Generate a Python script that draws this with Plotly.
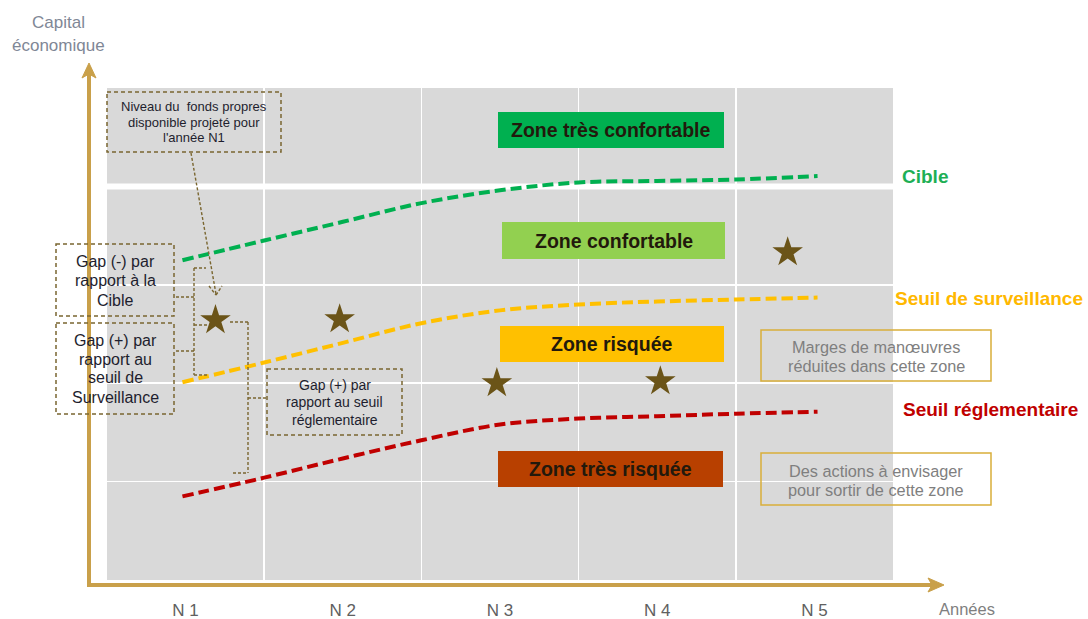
import plotly.graph_objects as go

# ---------------- data ----------------
years = [1, 2, 3, 4, 5]
year_labels = ["N 1", "N 2", "N 3", "N 4", "N 5"]

curve_x = [0.98, 1.5, 2.0, 2.5, 3.0, 3.5, 4.0, 4.5, 5.02]
cible = [3.25, 3.45, 3.64, 3.83, 3.96, 4.04, 4.055, 4.07, 4.105]
seuil_surveillance = [2.01, 2.21, 2.41, 2.61, 2.74, 2.80, 2.83, 2.85, 2.87]
seuil_reglementaire = [0.85, 1.04, 1.235, 1.42, 1.58, 1.64, 1.665, 1.69, 1.71]

star_x = [1.19, 1.98, 2.98, 4.02, 4.83]
star_y = [2.64, 2.65, 2.00, 2.02, 3.33]

zone_names = ["Zone très confortable", "Zone confortable", "Zone risquée", "Zone très risquée"]
zone_colors = ["#00B050", "#92D050", "#FFC000", "#B84000"]

# ---------------- geometry helpers (pixel -> paper) ----------------
W, H = 1088, 619
L, R, T, B = 107, 195, 88, 39
PW, PH = W - L - R, H - T - B


def X(px):
    return (px - L) / PW


def Y(py):
    return (H - B - py) / PH


FONT = "Liberation Sans, Arial, sans-serif"
NARROW = "Liberation Sans Narrow, Arial Narrow, Liberation Sans, Arial, sans-serif"
GOLD = "#C9A04A"
OLIVE = "#7A6630"
STAR = "#6B5418"

fig = go.Figure()

line_specs = [
    (cible, "#00B050"),
    (seuil_surveillance, "#FFC000"),
    (seuil_reglementaire, "#C00000"),
]
for vals, col in line_specs:
    fig.add_trace(go.Scatter(
        x=curve_x, y=vals, mode="lines",
        line=dict(color=col, width=4, dash="11px,5px", shape="spline", smoothing=1),
        hoverinfo="skip", showlegend=False,
    ))

fig.add_trace(go.Scatter(
    x=star_x, y=star_y, mode="markers",
    marker=dict(symbol="star", size=23, color=STAR, line=dict(width=0)),
    hoverinfo="skip", showlegend=False,
))

shapes = []
annotations = []

# thick white line (target level)
shapes.append(dict(type="line", xref="paper", yref="y", x0=0, x1=1, y0=4, y1=4,
                   line=dict(color="white", width=6), layer="between"))

# golden axes with arrows
shapes.append(dict(type="line", xref="paper", yref="paper",
                   x0=X(89), y0=Y(586), x1=X(89), y1=Y(72),
                   line=dict(color=GOLD, width=4)))
shapes.append(dict(type="line", xref="paper", yref="paper",
                   x0=X(87), y0=Y(585), x1=X(935), y1=Y(585),
                   line=dict(color=GOLD, width=4)))


def path(points):
    s = "M " + " L ".join(f"{X(a):.5f},{Y(b):.5f}" for a, b in points) + " Z"
    return s


shapes.append(dict(type="path", xref="paper", yref="paper",
                   path=path([(82, 78), (89, 63), (96, 78), (89, 74)]),
                   fillcolor=GOLD, line=dict(color=GOLD, width=1)))
shapes.append(dict(type="path", xref="paper", yref="paper",
                   path=path([(928, 578), (944, 585), (928, 592), (932, 585)]),
                   fillcolor=GOLD, line=dict(color=GOLD, width=1)))

# zone boxes
zone_boxes = [(498, 112, 724, 148), (502, 222, 725, 259), (500, 326, 724, 362), (498, 451, 723, 487)]
for name, col, (x0, y0, x1, y1) in zip(zone_names, zone_colors, zone_boxes):
    shapes.append(dict(type="rect", xref="paper", yref="paper",
                       x0=X(x0), y0=Y(y0), x1=X(x1), y1=Y(y1),
                       fillcolor=col, line=dict(width=0), layer="above"))
    annotations.append(dict(xref="paper", yref="paper", x=X((x0 + x1) / 2), y=Y((y0 + y1) / 2),
                            text=f"<b>{name}</b>", showarrow=False, xanchor="center", yanchor="middle",
                            font=dict(family=FONT, size=19.5, color="#22190C")))

# right-side line labels
annotations.append(dict(xref="paper", yref="paper", x=X(900), y=Y(176), text="<b>Cible</b>",
                        showarrow=False, xanchor="left", yanchor="middle",
                        font=dict(family=FONT, size=19, color="#1DAF55")))
annotations.append(dict(xref="paper", yref="paper", x=X(989), y=Y(298), text="<b>Seuil de surveillance</b>",
                        showarrow=False, xanchor="center", yanchor="middle",
                        font=dict(family=FONT, size=19, color="#FFB800")))
annotations.append(dict(xref="paper", yref="paper", x=X(990), y=Y(409), text="<b>Seuil réglementaire</b>",
                        showarrow=False, xanchor="center", yanchor="middle",
                        font=dict(family=FONT, size=19, color="#C00000")))

# gold comment boxes
gold_boxes = [
    ((761, 330, 991, 381), ["Marges de manœuvres", "réduites dans cette zone"], [347, 366]),
    ((761, 453, 991, 505), ["Des actions à envisager", "pour sortir de cette zone"], [471, 490]),
]
for (x0, y0, x1, y1), lines, ys in gold_boxes:
    shapes.append(dict(type="rect", xref="paper", yref="paper",
                       x0=X(x0), y0=Y(y0), x1=X(x1), y1=Y(y1),
                       line=dict(color="#D9AE3A", width=1.5), layer="above"))
    for t, yy in zip(lines, ys):
        annotations.append(dict(xref="paper", yref="paper", x=X((x0 + x1) / 2), y=Y(yy), text=t,
                                showarrow=False, xanchor="center", yanchor="middle",
                                font=dict(family=FONT, size=16.3, color="#7F7F7F")))

# dashed explanation boxes
dash_boxes = [
    ((107, 92, 281, 152), ["Niveau du  fonds propres", "disponible projeté pour", "l'année N1"], [107, 122, 137], 13),
    ((56, 244, 174, 316), ["Gap (-) par", "rapport à la", "Cible"], [261, 280, 300], 16),
    ((56, 323, 174, 414), ["Gap (+) par", "rapport au", "seuil de", "Surveillance"], [340, 359, 378, 397], 16),
    ((267, 369, 402, 435), ["Gap (+) par", "rapport au seuil", "réglementaire"], [385, 402.5, 420], 14),
]
for (x0, y0, x1, y1), lines, ys, fs in dash_boxes:
    shapes.append(dict(type="rect", xref="paper", yref="paper",
                       x0=X(x0), y0=Y(y0), x1=X(x1), y1=Y(y1),
                       line=dict(color=OLIVE, width=1.5, dash="4px,3px"), layer="above"))
    for t, yy in zip(lines, ys):
        annotations.append(dict(xref="paper", yref="paper", x=X((x0 + x1) / 2), y=Y(yy), text=t,
                                showarrow=False, xanchor="center", yanchor="middle",
                                font=dict(family=FONT, size=fs, color="#1E1E2E")))

# dashed connector / bracket lines
segs = [
    ((191, 153), (216, 294)),
    ((209, 286), (216, 295)), ((216, 295), (222, 286)),
    ((194, 268), (194, 375)),
    ((194, 268), (206, 268)),
    ((194, 325), (207, 325)),
    ((194, 375), (208, 375)),
    ((176, 297), (194, 297)),
    ((176, 351), (194, 351)),
    ((230, 322), (248, 322)),
    ((248, 322), (248, 473)),
    ((233, 473), (248, 473)),
    ((248, 398), (267, 398)),
]
for (a, b), (c, d) in segs:
    shapes.append(dict(type="line", xref="paper", yref="paper",
                       x0=X(a), y0=Y(b), x1=X(c), y1=Y(d),
                       line=dict(color=OLIVE, width=1.4, dash="3px,2px"), layer="above"))

# axis titles
annotations.append(dict(xref="paper", yref="paper", x=X(58), y=Y(22), text="Capital",
                        showarrow=False, xanchor="center", yanchor="middle",
                        font=dict(family=FONT, size=17, color="#7F8796")))
annotations.append(dict(xref="paper", yref="paper", x=X(58), y=Y(45), text="économique",
                        showarrow=False, xanchor="center", yanchor="middle",
                        font=dict(family=FONT, size=17, color="#7F8796")))
annotations.append(dict(xref="paper", yref="paper", x=X(967), y=Y(609), text="Années",
                        showarrow=False, xanchor="center", yanchor="middle",
                        font=dict(family=NARROW, size=16.5, color="#7F7F7F")))

fig.update_layout(
    width=W, height=H, autosize=False,
    margin=dict(l=L, r=R, t=T, b=B, pad=0),
    paper_bgcolor="white", plot_bgcolor="#D9D9D9",
    showlegend=False, hovermode=False,
    shapes=shapes, annotations=annotations,
    xaxis=dict(range=[0.5, 5.5], tickmode="array", tickvals=years, ticktext=year_labels,
               showgrid=False, zeroline=False, showline=False, automargin=False,
               ticks="outside", ticklen=15, tickcolor="rgba(0,0,0,0)",
               tickfont=dict(family=NARROW, size=17, color="#606060"),
               minor=dict(tickmode="linear", tick0=0.5, dtick=1, showgrid=True,
                          gridcolor="white", gridwidth=1.5, ticks=""),
               fixedrange=True),
    yaxis=dict(range=[0, 5], dtick=1, showgrid=True, gridcolor="white", gridwidth=1.5,
               zeroline=False, showline=False, showticklabels=False, automargin=False,
               fixedrange=True),
)

fig.write_html("out.html", config={"responsive": False, "displayModeBar": False, "staticPlot": True})
